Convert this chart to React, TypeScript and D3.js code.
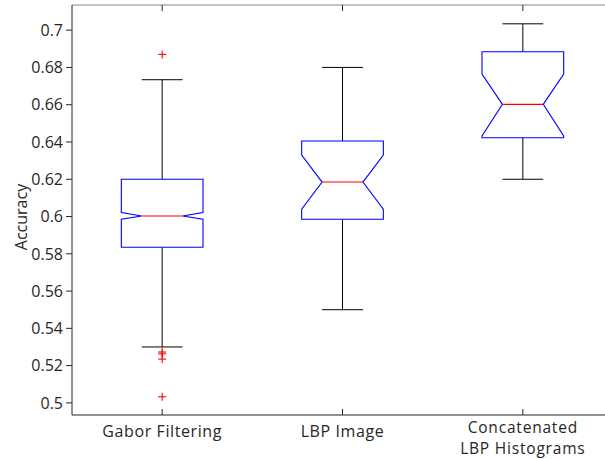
import React from "react";
import * as d3 from "d3";

const categories: string[][] = [["Gabor Filtering"], ["LBP Image"], ["Concatenated", "LBP Histograms"]];
const whiskerLow = [0.53, 0.55, 0.62];
const q1 = [0.5835, 0.5985, 0.6423];
const medians = [0.6003, 0.6185, 0.6602];
const q3 = [0.62, 0.6405, 0.6884];
const whiskerHigh = [0.6734, 0.68, 0.7034];
const notchLow = [0.5985, 0.604, 0.6432];
const notchHigh = [0.6022, 0.633, 0.6764];
const outliers: number[][] = [[0.687, 0.5273, 0.5263, 0.5235, 0.5033], [], []];
const yTicks = [0.5, 0.52, 0.54, 0.56, 0.58, 0.6, 0.62, 0.64, 0.66, 0.68, 0.7];
const yLabel = "Accuracy";

const W = 605;
const H = 459;
const left = 72;
const right = 613;
const top = 5;
const bottom = 415;
const boxW = 0.453;
const font = "'Open Sans', sans-serif";
const axisColor = "#262626";

export default function App() {
  const x = d3.scaleLinear().domain([0.5, 3.5]).range([left, right]);
  const y = d3.scaleLinear().domain([0.4935, 0.7135]).range([bottom, top]);
  const fmt = (v: number) => d3.format("")(+v.toFixed(2));

  return (
    <svg width={W} height={H} style={{ position: "absolute", left: 0, top: 0, background: "#fff" }}>
      <line x1={left} x2={W} y1={top} y2={top} stroke="#8a8a8a" strokeWidth={1.2} />
      <line x1={left} x2={left} y1={top} y2={bottom} stroke={axisColor} strokeWidth={1} />
      <line x1={left} x2={W} y1={bottom} y2={bottom} stroke={axisColor} strokeWidth={1} />
      {yTicks.map((t) => (
        <g key={t}>
          <line x1={left - 6} x2={left} y1={y(t)} y2={y(t)} stroke={axisColor} />
          <text x={left - 9} y={y(t)} dy="0.36em" textAnchor="end" fontFamily={font} fontSize={16} fill={axisColor}>
            {fmt(t)}
          </text>
        </g>
      ))}
      <text
        transform={`translate(27,217) rotate(-90)`}
        textAnchor="middle"
        fontFamily={font}
        fontSize={16}
        fill={axisColor}
      >
        {yLabel}
      </text>
      {categories.map((lines, i) => {
        const cx = x(i + 1);
        const multi = lines.length > 1;
        const baseY = multi ? 432.6 : 437.3;
        const fs = multi ? 15.5 : 16;
        return (
          <g key={i}>
            <line x1={cx} x2={cx} y1={bottom - 6} y2={bottom} stroke={axisColor} />
            <line x1={cx} x2={cx} y1={top} y2={top + 6} stroke={axisColor} />
            {lines.map((l, k) => (
              <text
                key={k}
                x={cx}
                y={baseY + k * 21.3}
                textAnchor="middle"
                fontFamily={font}
                fontSize={fs}
                fill={axisColor}
                letterSpacing={multi ? 0.8 : 0.6}
              >
                {l}
              </text>
            ))}
          </g>
        );
      })}
      {categories.map((_, i) => {
        const c = i + 1;
        const xl = x(c - boxW / 2);
        const xr = x(c + boxW / 2);
        const xil = x(c - boxW / 4);
        const xir = x(c + boxW / 4);
        const cx = x(c);
        const p = d3.path();
        p.moveTo(xl, y(q3[i]));
        p.lineTo(xr, y(q3[i]));
        p.lineTo(xr, y(notchHigh[i]));
        p.lineTo(xir, y(medians[i]));
        p.lineTo(xr, y(notchLow[i]));
        p.lineTo(xr, y(q1[i]));
        p.lineTo(xl, y(q1[i]));
        p.lineTo(xl, y(notchLow[i]));
        p.lineTo(xil, y(medians[i]));
        p.lineTo(xl, y(notchHigh[i]));
        p.closePath();
        return (
          <g key={"b" + i}>
            <line x1={cx} x2={cx} y1={y(q3[i])} y2={y(whiskerHigh[i])} stroke="#000" strokeWidth={1} />
            <line x1={cx} x2={cx} y1={y(q1[i])} y2={y(whiskerLow[i])} stroke="#000" strokeWidth={1} />
            <line x1={xil} x2={xir} y1={y(whiskerHigh[i])} y2={y(whiskerHigh[i])} stroke="#000" strokeWidth={1} />
            <line x1={xil} x2={xir} y1={y(whiskerLow[i])} y2={y(whiskerLow[i])} stroke="#000" strokeWidth={1} />
            <path d={p.toString()} fill="none" stroke="#0000ff" strokeWidth={1.1} />
            <line x1={xil} x2={xir} y1={y(medians[i])} y2={y(medians[i])} stroke="#ff0000" strokeWidth={1.1} />
            {outliers[i].map((o, k) => (
              <g key={k} stroke="#ff0000" strokeWidth={1.1}>
                <line x1={cx - 4} x2={cx + 4} y1={y(o)} y2={y(o)} />
                <line x1={cx} x2={cx} y1={y(o) - 4} y2={y(o) + 4} />
              </g>
            ))}
          </g>
        );
      })}
    </svg>
  );
}
